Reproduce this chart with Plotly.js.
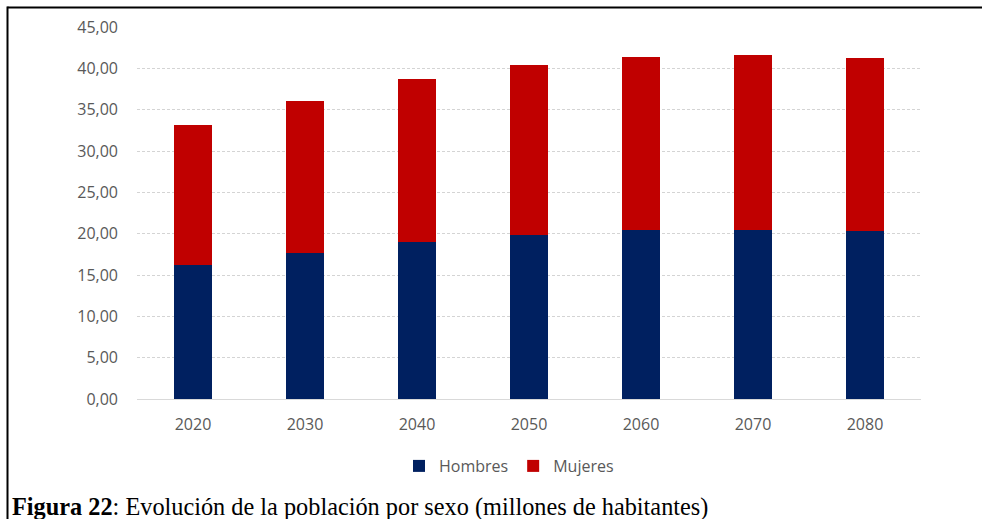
<!DOCTYPE html>
<html>
<head>
<meta charset="utf-8">
<script src="https://cdn.plot.ly/plotly-3.0.1.min.js"></script>
<style>
  html, body { margin: 0; padding: 0; background: #ffffff; }
  #chart { width: 982px; height: 519px; }
</style>
</head>
<body>
<div id="chart"></div>
<script>
// Población proyectada por sexo (millones de habitantes)
const years = ['2020', '2030', '2040', '2050', '2060', '2070', '2080'];
const hombres = [16.20, 17.70, 18.95, 19.88, 20.48, 20.48, 20.30];
const mujeres = [16.89, 18.40, 19.80, 20.57, 20.92, 21.18, 20.90];
const yTicks = [0, 5, 10, 15, 20, 25, 30, 35, 40, 45];

const W = 982, H = 519;
const M = { l: 137, r: 61, t: 27, b: 120 };
const plotW = W - M.l - M.r, plotH = H - M.t - M.b;
// pixel -> paper coordinates helpers for the frame and caption
const px = x => (x - M.l) / plotW;
const py = y => (H - M.b - y) / plotH;

const gray = '#595959';

const traces = [
  {
    type: 'bar', name: 'Hombres', x: years, y: hombres,
    marker: { color: '#002060', line: { width: 0 } },
    hoverinfo: 'x+y+name'
  },
  {
    type: 'bar', name: 'Mujeres', x: years, y: mujeres,
    marker: { color: '#C00000', line: { width: 0 } },
    hoverinfo: 'x+y+name'
  }
];

const layout = {
  width: W, height: H,
  margin: M,
  barmode: 'stack',
  bargap: 0.66,
  separators: ',.',
  paper_bgcolor: '#ffffff',
  plot_bgcolor: '#ffffff',
  font: { family: '"Open Sans", "Noto Sans", sans-serif', size: 16, color: gray },
  showlegend: true,
  legend: {
    orientation: 'h',
    x: px(509), xanchor: 'center',
    y: py(466), yanchor: 'middle',
    font: { size: 16, color: gray },
    itemwidth: 30,
    traceorder: 'normal'
  },
  xaxis: {
    type: 'category',
    showgrid: false,
    showline: true, linecolor: '#d9d9d9', linewidth: 1,
    ticks: '',
    ticklabelstandoff: 11,
    tickfont: { size: 16, color: gray },
    fixedrange: true
  },
  yaxis: {
    range: [0, 45],
    tickvals: yTicks,
    tickformat: '.2f',
    showgrid: true, gridcolor: '#d4d4d4', griddash: '3px,2px', gridwidth: 1,
    zeroline: true, zerolinecolor: '#d9d9d9', zerolinewidth: 1,
    showline: false,
    ticks: '',
    ticklabelstandoff: 18,
    tickfont: { size: 16, color: gray },
    fixedrange: true
  },
  shapes: [
    // frame: top and left rules
    { type: 'line', xref: 'paper', yref: 'paper', x0: px(7.5), x1: px(982), y0: py(7.5), y1: py(7.5),
      line: { color: '#000000', width: 2 } },
    { type: 'line', xref: 'paper', yref: 'paper', x0: px(7.5), x1: px(7.5), y0: py(6.5), y1: py(519),
      line: { color: '#000000', width: 2 } }
  ],
  annotations: [
    {
      xref: 'paper', yref: 'paper',
      x: px(10), xanchor: 'left',
      y: py(507), yanchor: 'middle',
      showarrow: false,
      text: '<b>Figura 22</b>: Evolución de la población por sexo (millones de habitantes)',
      font: { family: '"Liberation Serif", "Times New Roman", serif', size: 24.3, color: '#000000' }
    }
  ]
};

Plotly.newPlot('chart', traces, layout, { displayModeBar: false, staticPlot: true });
</script>
</body>
</html>
